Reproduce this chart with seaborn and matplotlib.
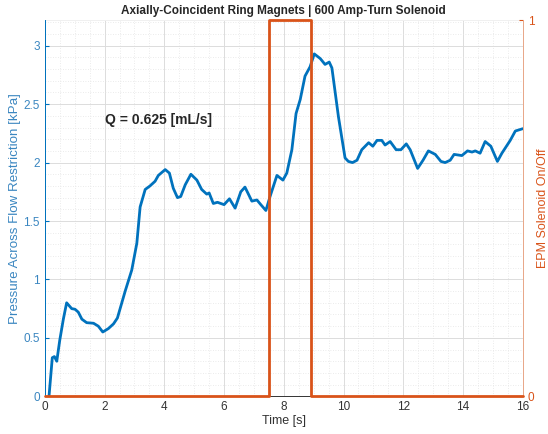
import numpy as np
import pandas as pd
import seaborn as sns
import matplotlib.pyplot as plt
from matplotlib.ticker import MultipleLocator

# pressure trace
time_s = [0.14, 0.25, 0.32, 0.40, 0.50, 0.62, 0.73, 0.90, 1.01, 1.12, 1.24, 1.40, 1.63,
          1.79, 1.94, 2.13, 2.30, 2.43, 2.69, 2.91, 3.08, 3.19, 3.36, 3.52, 3.69, 3.80,
          4.03, 4.17, 4.30, 4.44, 4.55, 4.70, 4.89, 5.09, 5.25, 5.42, 5.50, 5.64, 5.78,
          6.00, 6.18, 6.37, 6.56, 6.70, 6.93, 7.10, 7.23, 7.40, 7.54, 7.77, 7.97, 8.10,
          8.27, 8.41, 8.55, 8.71, 8.88, 9.02, 9.22, 9.38, 9.52, 9.61, 9.83, 10.05, 10.16,
          10.30, 10.45, 10.61, 10.84, 10.98, 11.12, 11.28, 11.39, 11.56, 11.76, 11.92,
          12.10, 12.23, 12.48, 12.66, 12.84, 13.07, 13.26, 13.40, 13.57, 13.70, 13.96,
          14.15, 14.30, 14.41, 14.57, 14.74, 14.93, 15.15, 15.30, 15.58, 15.75, 16.00]
pressure_kpa = [0.00, 0.33, 0.34, 0.30, 0.48, 0.66, 0.80, 0.75, 0.745, 0.72, 0.66, 0.63, 0.625,
                0.60, 0.55, 0.58, 0.62, 0.67, 0.90, 1.08, 1.31, 1.62, 1.77, 1.80, 1.84, 1.89,
                1.94, 1.91, 1.78, 1.70, 1.71, 1.81, 1.90, 1.85, 1.77, 1.73, 1.74, 1.65, 1.66,
                1.64, 1.69, 1.61, 1.75, 1.79, 1.67, 1.68, 1.64, 1.59, 1.71, 1.89, 1.85, 1.91,
                2.11, 2.42, 2.54, 2.74, 2.82, 2.93, 2.89, 2.84, 2.86, 2.81, 2.39, 2.04, 2.01,
                2.00, 2.02, 2.11, 2.17, 2.14, 2.19, 2.19, 2.15, 2.18, 2.11, 2.11,
                2.16, 2.11, 1.95, 2.02, 2.10, 2.07, 2.01, 2.00, 2.02, 2.07, 2.06,
                2.10, 2.09, 2.10, 2.08, 2.18, 2.14, 2.01, 2.08, 2.19, 2.27, 2.29]

# solenoid on/off signal
sol_time = [0.0, 7.5, 8.9, 16.0]
sol_state = [0, 1, 0, 0]

blue = '#0072BD'
orange = '#D95319'

sns.set_style('white')
plt.rcParams['font.family'] = ['Liberation Sans', 'DejaVu Sans']

df = pd.DataFrame({'t': time_s, 'p': pressure_kpa})
sol = pd.DataFrame({'t': sol_time, 's': sol_state})

fig = plt.figure(figsize=(5.48, 4.34), dpi=100)
ax = fig.add_axes([0.0818, 0.0869, 0.8722, 0.867])

sns.lineplot(data=df, x='t', y='p', ax=ax, color=blue, linewidth=2.0,
             sort=False, estimator=None, zorder=3)

ax.set_xlim(0, 16)
ax.set_ylim(0, 3.22)
ax.xaxis.set_major_locator(MultipleLocator(2))
ax.xaxis.set_minor_locator(MultipleLocator(0.5))
ax.yaxis.set_major_locator(MultipleLocator(0.5))
ax.yaxis.set_minor_locator(MultipleLocator(0.1))
ax.grid(which='major', color='#dcdcdc', linewidth=0.7)
ax.grid(which='minor', color='#e4e4e4', linewidth=0.6, linestyle=(0, (1, 2)))
ax.set_axisbelow(True)
ax.tick_params(axis='both', which='both', direction='in', labelsize=8.5, length=3)
ax.tick_params(axis='both', which='minor', length=0)
ax.tick_params(axis='y', colors=blue, labelcolor='#3a86c0')
ax.tick_params(axis='x', colors='#333333', labelcolor='#333333')
ax.set_yticks([0, 0.5, 1, 1.5, 2, 2.5, 3])
ax.set_yticklabels(['0', '0.5', '1', '1.5', '2', '2.5', '3'])
ax.set_xlabel('Time [s]', fontsize=9, color='#333333', labelpad=1)
ax.set_ylabel('Pressure Across Flow Restriction [kPa]', fontsize=9.6, color='#3a86c0', labelpad=2)
ax.set_title('Axially-Coincident Ring Magnets | 600 Amp-Turn Solenoid',
             fontsize=8.5, fontweight='bold', pad=4)
ax.text(2.0, 2.33, 'Q = 0.625 [mL/s]', fontsize=10, fontweight='bold')

ax2 = ax.twinx()
sns.lineplot(data=sol, x='t', y='s', ax=ax2, color=orange, linewidth=2.0,
             drawstyle='steps-post', sort=False, estimator=None, clip_on=False, zorder=5)
ax2.set_ylim(0, 1)
ax2.set_yticks([0, 1])
ax2.set_yticklabels(['0', '1'])
ax2.tick_params(axis='y', direction='in', colors=orange, labelcolor=orange, labelsize=8.5, length=3)
ax2.set_ylabel('EPM Solenoid On/Off', fontsize=9, color=orange, labelpad=2)

for a in (ax, ax2):
    a.spines['left'].set_color(blue)
    a.spines['right'].set_color('#e8a88a')
    a.spines['top'].set_color('#f0f0f0')
    a.spines['bottom'].set_color('#333333')
    for s in a.spines.values():
        s.set_linewidth(0.7)
        s.set_zorder(1)
ax2.spines['bottom'].set_visible(False)
ax2.spines['top'].set_visible(False)

fig.savefig('out.png', dpi=100)
